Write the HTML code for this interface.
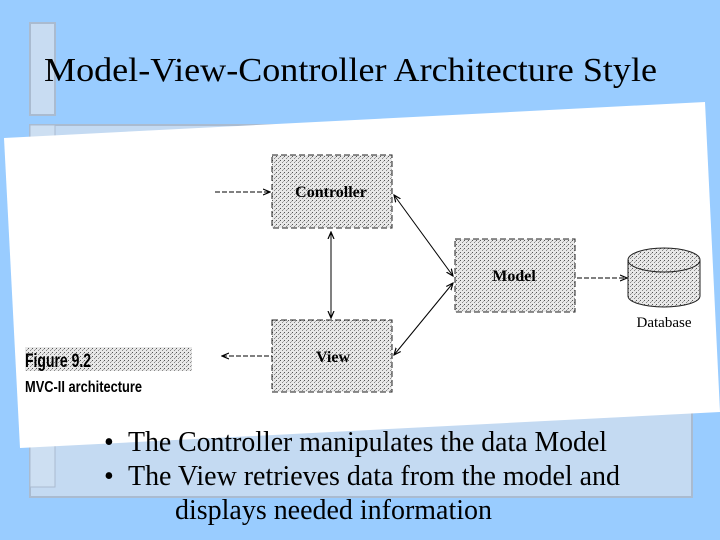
<!DOCTYPE html>
<html><head><style>
body{margin:0;width:720px;height:540px;overflow:hidden;background:#99ccff}
svg{display:block}
</style></head><body>
<svg width="720" height="540" viewBox="0 0 720 540" xmlns="http://www.w3.org/2000/svg">
<defs>
<pattern id="st" width="4" height="4" patternUnits="userSpaceOnUse">
<rect width="4" height="4" fill="#e8e8e8"/>
<rect x="0" y="0" width="1" height="1" fill="#555"/>
<rect x="2" y="2" width="1" height="1" fill="#888"/>
<rect x="3" y="1" width="1" height="1" fill="#aaa"/>
</pattern>
<marker id="ar" markerWidth="8" markerHeight="8" refX="7" refY="4" orient="auto-start-reverse" markerUnits="userSpaceOnUse">
<path d="M0,1 L7,4 L0,7" fill="none" stroke="#000" stroke-width="1.2"/>
</marker>
</defs>
<rect width="720" height="540" fill="#99ccff"/>
<rect x="30" y="23" width="25" height="92" fill="#c8dcf2" stroke="#aabbd0" stroke-width="2"/>
<rect x="30" y="125" width="662" height="372" fill="#c4daf2" stroke="#aabbd0" stroke-width="2"/>
<rect x="30" y="125" width="25" height="362" fill="#cddff2" stroke="#aabbd0" stroke-width="1"/>
<text x="44" y="81" font-family="Liberation Serif, serif" font-size="34" textLength="613" lengthAdjust="spacingAndGlyphs" fill="#000">Model-View-Controller Architecture Style</text>
<polygon points="4,138 705,102 720,412 20,448" fill="#fff"/>
<rect x="272" y="155" width="120" height="73" fill="url(#st)" stroke="#222" stroke-dasharray="6 3"/>
<rect x="455" y="239" width="120" height="73" fill="url(#st)" stroke="#222" stroke-dasharray="6 3"/>
<rect x="272" y="320" width="120" height="72" fill="url(#st)" stroke="#222" stroke-dasharray="6 3"/>
<path d="M628,260 L628,296 A36,11 0 0 0 700,296 L700,260" fill="url(#st)" stroke="#222"/>
<ellipse cx="664" cy="260" rx="36" ry="12" fill="url(#st)" stroke="#222"/>
<text x="331" y="197" text-anchor="middle" font-family="Liberation Serif, serif" font-weight="bold" font-size="16">Controller</text>
<text x="514" y="281" text-anchor="middle" font-family="Liberation Serif, serif" font-weight="bold" font-size="16">Model</text>
<text x="333" y="362" text-anchor="middle" font-family="Liberation Serif, serif" font-weight="bold" font-size="16">View</text>
<text x="664" y="327" text-anchor="middle" font-family="Liberation Serif, serif" font-size="15">Database</text>
<line x1="215" y1="192" x2="270" y2="192" stroke="#000" stroke-dasharray="5 2" marker-end="url(#ar)"/>
<line x1="222" y1="356" x2="272" y2="356" stroke="#000" stroke-dasharray="5 2" marker-start="url(#ar)"/>
<line x1="331" y1="232" x2="331" y2="318" stroke="#000" marker-start="url(#ar)" marker-end="url(#ar)"/>
<line x1="394" y1="195" x2="453" y2="276" stroke="#000" marker-start="url(#ar)" marker-end="url(#ar)"/>
<line x1="394" y1="355" x2="453" y2="283" stroke="#000" marker-start="url(#ar)" marker-end="url(#ar)"/>
<line x1="577" y1="278" x2="627" y2="278" stroke="#000" stroke-dasharray="5 2" marker-end="url(#ar)"/>
<rect x="25" y="347" width="167" height="24" fill="url(#st)"/>
<text x="25" y="367" font-family="Liberation Sans Narrow, Liberation Sans, sans-serif" font-weight="bold" font-size="19" textLength="66" lengthAdjust="spacingAndGlyphs">Figure 9.2</text>
<text x="25" y="392" font-family="Liberation Sans Narrow, Liberation Sans, sans-serif" font-weight="bold" font-size="16" textLength="117" lengthAdjust="spacingAndGlyphs">MVC-II architecture</text>
<g font-family="Liberation Serif, serif" font-size="28" fill="#000">
<text x="104" y="451">•</text><text x="128" y="451" textLength="479" lengthAdjust="spacingAndGlyphs">The Controller manipulates the data Model</text>
<text x="104" y="485">•</text><text x="128" y="485" textLength="492" lengthAdjust="spacingAndGlyphs">The View retrieves data from the model and</text>
<text x="175" y="519" textLength="317" lengthAdjust="spacingAndGlyphs">displays needed information</text>
</g>
</svg>
</body></html>
